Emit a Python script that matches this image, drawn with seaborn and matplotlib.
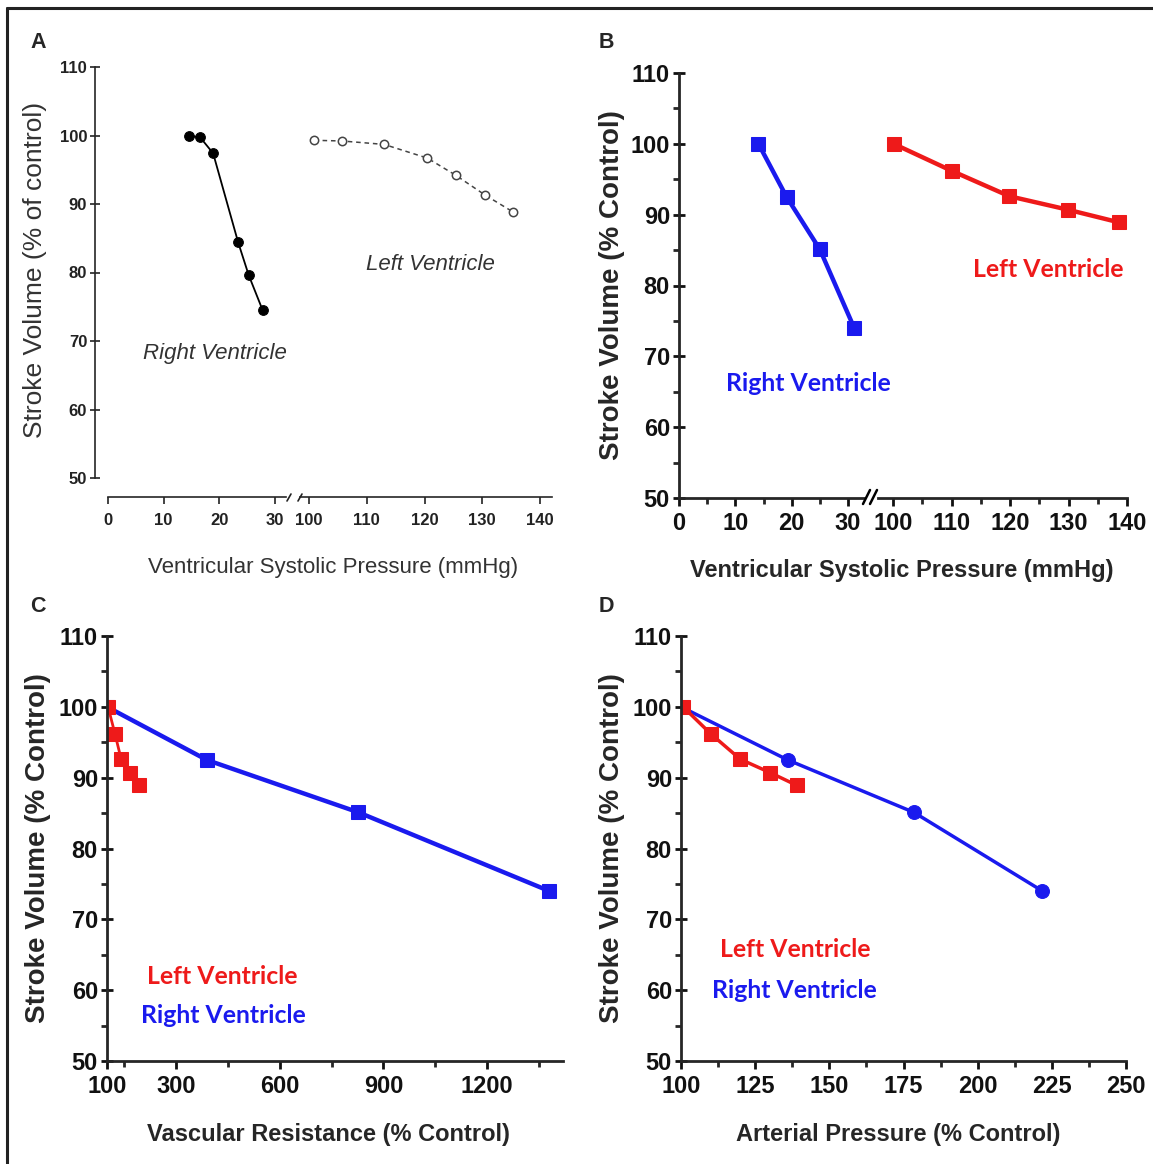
import numpy as np
import pandas as pd
import matplotlib.pyplot as plt
from matplotlib.lines import Line2D
import seaborn as sns

# ---- data ----
# panel A
a_rv_press = [14.5, 16.5, 18.9, 23.4, 25.3, 27.8]
a_rv_sv = [99.9, 99.8, 97.4, 84.4, 79.6, 74.5]
a_lv_press = [100.9, 105.7, 113.0, 120.5, 125.4, 130.5, 135.4]
a_lv_sv = [99.3, 99.2, 98.7, 96.7, 94.2, 91.3, 88.8]

# panels B-D: same stroke volumes, different x measures
rv_sv = [100.0, 92.5, 85.1, 74.0]
lv_sv = [100.0, 96.2, 92.6, 90.7, 88.9]
rv_press = [14.1, 19.1, 25.0, 31.1]
lv_press = [100.1, 110.0, 119.9, 129.9, 138.7]
rv_resist = [100, 389, 828, 1380]
lv_resist = [103, 123, 141, 166, 192]
rv_arterial = [100, 136.0, 178.5, 221.8]
lv_arterial = [100.7, 110.0, 120.0, 130.1, 139.1]

RED = '#ee1a1a'
BLUE = '#1a1aee'
GREY = '#333333'

sns.set_style('ticks')
plt.rcParams['font.family'] = ['Liberation Sans', 'DejaVu Sans']

W, H = 1153, 1164
fig = plt.figure(figsize=(W / 100, H / 100), dpi=100)


def box(x0, y0, x1, y1):
    return [x0 / W, 1 - y1 / H, (x1 - x0) / W, (y1 - y0) / H]


def ftext(x, y, s, **kw):
    fig.text(x / W, 1 - y / H, s, ha='center', va='center', **kw)


def fline(xs, ys, **kw):
    fig.add_artist(Line2D([x / W for x in xs], [1 - y / H for y in ys], **kw))


# frame remnants (top and left edge of the original figure border)
fline([7, W], [8, 8], color='#222222', lw=2.2)
fline([7, 7], [8, H], color='#222222', lw=2.2)

# ================= panel A =================
axA1 = fig.add_axes(box(108, 67, 286, 478))
axA2 = fig.add_axes(box(300.3, 67, 551.6, 478))
sns.lineplot(x=a_rv_press, y=a_rv_sv, ax=axA1, color='black', lw=1.3,
             marker='o', markersize=7, markeredgecolor='black', sort=False)
sns.lineplot(x=a_lv_press, y=a_lv_sv, ax=axA2, color='#444444', lw=1.1,
             linestyle=(0, (3, 2.5)), marker='o', markersize=6,
             markerfacecolor='white', markeredgecolor='#444444',
             markeredgewidth=1.1, sort=False)
axA1.set_xlim(0, 32)
axA2.set_xlim(98.5, 142)
for ax in (axA1, axA2):
    ax.set_facecolor('none')
    ax.set_ylim(50, 110)
    ax.spines['top'].set_visible(False)
    ax.spines['right'].set_visible(False)
    ax.spines['bottom'].set_position(('outward', 14))
    ax.spines['bottom'].set_linewidth(1.2)
    ax.spines['left'].set_linewidth(1.2)
    ax.set_xlabel('')
    ax.set_ylabel('')
    ax.tick_params(axis='x', direction='out', length=5, width=1.2,
                   colors='#222222', labelsize=12, pad=6)
axA1.spines['left'].set_position(('outward', 9.5))
axA1.set_yticks(np.arange(50, 111, 10))
axA1.tick_params(axis='y', direction='inout', length=7, width=1.2,
                 colors='#222222', labelsize=12, pad=2)
axA1.set_xticks([0, 10, 20, 30])
axA2.set_xticks([100, 110, 120, 130, 140])
axA2.spines['left'].set_visible(False)
axA2.tick_params(axis='y', left=False, labelleft=False)
for ax in (axA1, axA2):
    for lab in ax.get_xticklabels() + ax.get_yticklabels():
        lab.set_fontweight('bold')
fline([287, 291], [501, 494], color='#222222', lw=1.2)
fline([298, 302], [501, 494], color='#222222', lw=1.2)
axA1.text(19.2, 68.2, 'Right Ventricle', fontsize=16, style='italic',
          color=GREY, ha='center', va='center')
axA2.text(121.1, 81.2, 'Left Ventricle', fontsize=16, style='italic',
          color=GREY, ha='center', va='center')
ftext(35, 270, 'Stroke Volume (% of control)', fontsize=19, rotation=90,
      color=GREY)
ftext(333, 567, 'Ventricular Systolic Pressure (mmHg)', fontsize=16,
      color=GREY)
ftext(38, 42, 'A', fontsize=15.5, fontweight='bold')


def style_bold(ax, left=True):
    ax.set_facecolor('none')
    ax.set_xlabel('')
    ax.set_ylabel('')
    ax.spines['top'].set_visible(False)
    ax.spines['right'].set_visible(False)
    ax.spines['bottom'].set_linewidth(2)
    ax.spines['left'].set_linewidth(2)
    ax.tick_params(axis='x', which='major', direction='out', length=6,
                   width=2, labelsize=17, pad=4, colors='#111111')
    ax.tick_params(axis='x', which='minor', direction='out', length=4,
                   width=2)
    if left:
        ax.set_yticks(np.arange(50, 111, 10))
        ax.set_yticks(np.arange(55, 110, 10), minor=True)
        ax.tick_params(axis='y', which='major', direction='inout', length=9,
                       width=2, labelsize=17, pad=2, colors='#111111')
        ax.tick_params(axis='y', which='minor', direction='out', length=4,
                       width=2)
    else:
        ax.spines['left'].set_visible(False)
        ax.tick_params(axis='y', which='both', left=False, labelleft=False)
    ax.set_ylim(50, 110)
    for lab in ax.get_xticklabels() + ax.get_yticklabels():
        lab.set_fontweight('bold')


LAB = dict(fontsize=17.8, fontweight='bold', family='Lato', ha='center',
           va='center', zorder=10)

# ================= panel B =================
axB1 = fig.add_axes(box(679, 73, 863.8, 498))
axB2 = fig.add_axes(box(878.4, 73, 1127, 498))
sns.lineplot(x=rv_press, y=rv_sv, ax=axB1, color=BLUE, lw=3.2, marker='s',
             markersize=10.5, markeredgecolor=BLUE, sort=False)
sns.lineplot(x=lv_press, y=lv_sv, ax=axB2, color=RED, lw=3.2, marker='s',
             markersize=10.5, markeredgecolor=RED, sort=False)
axB1.set_xlim(0, 32.8)
axB1.set_xticks([0, 10, 20, 30])
axB1.set_xticks([5, 15, 25], minor=True)
axB2.set_xlim(97.5, 140)
axB2.set_xticks([100, 110, 120, 130, 140])
axB2.set_xticks([105, 115, 125, 135], minor=True)
style_bold(axB1)
style_bold(axB2, left=False)
fline([863, 870], [504, 490], color='black', lw=1.8)
fline([870, 877], [504, 490], color='black', lw=1.8)
axB1.text(22.9, 66.2, 'Right Ventricle', color=BLUE, **LAB)
axB2.text(126.5, 82.2, 'Left Ventricle', color=RED, **LAB)
ftext(612, 285, 'Stroke Volume (% Control)', fontsize=20, rotation=90,
      fontweight='bold')
ftext(902, 571, 'Ventricular Systolic Pressure (mmHg)', fontsize=17,
      fontweight='bold')
ftext(606, 42, 'B', fontsize=15.5, fontweight='bold')

# ================= panel C =================
axC = fig.add_axes(box(107, 636, 563, 1061))
sns.lineplot(x=rv_resist, y=rv_sv, ax=axC, color=BLUE, lw=3.2, marker='s',
             markersize=10.5, markeredgecolor=BLUE, sort=False)
sns.lineplot(x=lv_resist, y=lv_sv, ax=axC, color=RED, lw=2, marker='s',
             markersize=9.5, markeredgecolor=RED, sort=False)
axC.set_xlim(100, 1420)
axC.set_xticks([100, 300, 600, 900, 1200])
axC.set_xticks([150, 450, 750, 1050, 1350], minor=True)
style_bold(axC)
axC.text(433, 62.0, 'Left Ventricle', color=RED, **LAB)
axC.text(436, 56.4, 'Right Ventricle', color=BLUE, **LAB)
ftext(38, 848, 'Stroke Volume (% Control)', fontsize=20, rotation=90,
      fontweight='bold')
ftext(328, 1135, 'Vascular Resistance (% Control)', fontsize=17,
      fontweight='bold')
ftext(38, 607, 'C', fontsize=15.5, fontweight='bold')

# ================= panel D =================
axD = fig.add_axes(box(681, 636, 1126, 1061))
sns.lineplot(x=rv_arterial, y=rv_sv, ax=axD, color=BLUE, lw=2.5, marker='o',
             markersize=10, markeredgecolor=BLUE, sort=False)
sns.lineplot(x=lv_arterial, y=lv_sv, ax=axD, color=RED, lw=2.5, marker='s',
             markersize=9.5, markeredgecolor=RED, sort=False)
axD.set_xlim(100, 250)
axD.set_xticks([100, 125, 150, 175, 200, 225, 250])
axD.set_xticks(np.arange(112.5, 250, 25), minor=True)
style_bold(axD)
axD.text(138.4, 65.7, 'Left Ventricle', color=RED, **LAB)
axD.text(138.1, 60.0, 'Right Ventricle', color=BLUE, **LAB)
ftext(612, 848, 'Stroke Volume (% Control)', fontsize=20, rotation=90,
      fontweight='bold')
ftext(898, 1135, 'Arterial Pressure (% Control)', fontsize=17,
      fontweight='bold')
ftext(606, 607, 'D', fontsize=15.5, fontweight='bold')

fig.savefig('out.png', dpi=100, facecolor='white')
